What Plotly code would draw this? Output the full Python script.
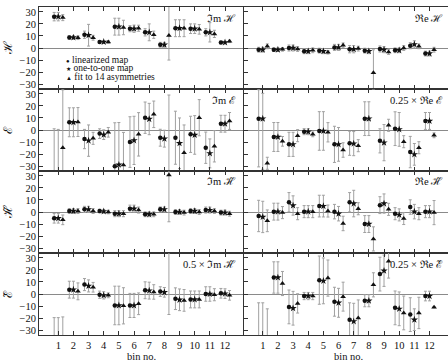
import plotly.graph_objects as go
from plotly.subplots import make_subplots

bins = list(range(1, 13))
tick_vals_y = [-30, -20, -10, 0, 10, 20, 30]
x_ticks = [str(b) for b in bins]
series_names = ["linearized map", "one-to-one map", "fit to 14 asymmetries"]

# ---- Panel 1 left: Im H ----
imH_lin = [26, 8.7, 11, 5, 17.7, 16, 13, 2.7, 16.4, 16, 13, 4.6]
imH_lin_err = [3.5, 1.5, 3, 1, 7, 2.5, 3, 2, 7, 4, 3, 1]
imH_o2o = [26, 8.7, 10.6, 5, 17.7, 16, 13, 2.7, 16.4, 16, 13, 4.6]
imH_o2o_err = [3.5, 1.5, 9, 1, 7, 3, 7, 2, 7, 4, 8, 1]
imH_fit = [25.2, 8.5, 8.5, 5, 17, 16.4, 11, 10.4, 16.4, 15.5, 11.7, 5.5]
imH_fit_err = [2.5, 1.5, 2, 1, 6, 2.5, 3, 30, 7, 4, 3, 1]
imH_fit_errm = [2.5, 1.5, 2, 1, 6, 2.5, 3, 20.4, 7, 4, 3, 1]

# ---- Panel 1 right: Re H ----
reH_lin = [-1.4, -1.4, 0, -2.7, -2.2, 0.5, -1, -2.2, -0.8, -1.9, 1.9, -4.6]
reH_lin_err = [2, 1.5, 2.5, 2, 2, 2.5, 3, 2, 2.5, 2, 2.5, 2]
reH_o2o = [-1.4, -1.4, 0, -2.7, -2.7, 0.5, -1, -2.7, -1.4, -1.9, 3, -4.6]
reH_o2o_err = [2, 1.5, 2.5, 2, 2, 2.5, 3, 2, 2.5, 2, 3, 2]
reH_fit = [1.4, -1.1, -0.8, -1.9, -3.5, 2.2, -0.5, -20.5, -3.3, 0, 1.4, -1.4]
reH_fit_err = [2, 1.5, 2, 2, 1.5, 2, 2, 19, 2, 2, 2, 2]

# ---- Panel 2 left: Im E ----
imE_lin = [-45, 6.4, -7.5, -3, -30, -10, 10.2, -6.4, -6.4, -3.6, -14.7, 5.2]
imE_lin_err = [46, 12, 8, 4, 36, 21, 13, 7, 22, 15, 13, 7]
imE_lin_errm = [10, 12, 8, 4, 36, 21, 13, 7, 22, 15, 13, 7]
imE_o2o = [-45, 6.4, -8.8, -3.9, -28.8, -8.6, 9.1, -7.2, -11, -4.1, -19.4, 5.2]
imE_o2o_err = [45.5, 12, 13, 4, 35, 20, 13, 7, 21, 16, 12, 7]
imE_o2o_errm = [10, 12, 13, 4, 35, 20, 13, 7, 21, 16, 12, 7]
imE_fit = [-14.7, 6.6, -6.9, -1.9, -29, -3.6, 13, -40, -18.8, 10.2, -13.5, 7.5]
imE_fit_err = [48, 12, 5, 4, 27, 18, 11, 69, 23, 15, 13, 7]
imE_fit_errm = [48, 12, 5, 4, 27, 18, 11, 10, 23, 15, 13, 7]

# ---- Panel 2 right: 0.25 x Re E ----
reE_lin = [9.4, -5.8, -11.9, -1.4, -0.8, -11.9, -11, 9.4, -9, 1.1, -18.3, 7.5]
reE_lin_err = [24, 12, 10, 2.5, 16, 15, 10, 14, 10, 14, 13, 7]
reE_lin_errm = [40, 12, 10, 2.5, 16, 15, 10, 14, 10, 14, 13, 7]
reE_o2o = [9.4, -5.8, -11.9, -1.4, -0.8, -11.9, -11.3, 9.4, -10.5, 0.5, -20.2, 7.5]
reE_o2o_err = [21, 12, 10, 2.5, 16, 14, 10, 14, 15, 14, 9, 7]
reE_o2o_errm = [42, 12, 10, 2.5, 16, 14, 10, 14, 15, 14, 9, 7]
reE_fit = [-27.6, -9.4, -4.7, -3.6, -1.9, -16.6, -13, 40, 3.9, -9.7, -14.7, -4.4]
reE_fit_err = [5, 4, 5, 2, 8, 6, 5, 6, 5, 5, 5, 2]

# ---- Panel 3 left: Im H~ ----
imHt_lin = [-5.2, 0.8, 2.2, 0.8, -1.4, 2.7, -1.9, 2.2, 0, 0.8, 1.6, -0.5]
imHt_lin_err = [4, 2, 2.5, 1.5, 2.5, 3, 2, 2, 2, 2, 2.5, 2]
imHt_o2o = [-5.2, 0.8, 2.2, 0.5, -1.4, 2.7, -1.9, 2.2, 0, 0.8, 1.6, -0.5]
imHt_o2o_err = [4, 2, 2.5, 1.5, 2.5, 3, 2, 2, 2, 2, 2.5, 2]
imHt_fit = [-6.5, 0.8, 0.8, 0, -1.4, 1.6, -1.9, 30.7, -0.5, 0, 0.8, -1.4]
imHt_fit_err = [4, 2, 2, 1.5, 2.5, 2.5, 2, 38.8, 2, 2, 2, 2]

# ---- Panel 3 right: Re H~ ----
reHt_lin = [-3.3, 0.3, 8.1, 0.3, 4.9, 0.3, 8.1, -10, 5.7, -1.4, 4.1, 0.3]
reHt_lin_err = [13, 7, 8, 5, 9, 6, 8, 7, 7, 5, 6, 5]
reHt_o2o = [-4.1, 0.3, 5.4, 0.3, 4.9, -1.4, 7, -10, 7, -2.4, 0.3, 0.3]
reHt_o2o_err = [13, 7, 8, 5, 9, 6, 11, 7, 8, 5, 6, 5]
reHt_fit = [-7.3, -0.5, -1.4, 0.3, 0.8, -9.5, 2.7, -22.3, 2.2, -5.4, -1.4, -0.5]
reHt_fit_err = [9, 5, 5, 5, 5, 6, 5, 10, 5, 5, 5, 10]

# ---- Panel 4 left: 0.5 x Im (bottom) ----
imEt_lin = [-45, 3.6, 7.8, -0.6, -9.5, -9.5, 3.1, 2, -3.9, -4.5, 0, 0.6]
imEt_lin_err = [25.4, 7, 5, 3, 16, 10, 7, 4, 9, 7, 6, 4]
imEt_lin_errm = [10, 7, 5, 3, 16, 10, 7, 4, 9, 7, 6, 4]
imEt_o2o = [-45, 3.6, 6.7, -1.1, -9.5, -9.5, 2.8, 1.4, -4.8, -4.5, 0, 0.3]
imEt_o2o_err = [25.4, 7, 5, 3, 16, 10, 7, 4, 9, 7, 6, 4]
imEt_o2o_errm = [10, 7, 5, 3, 16, 10, 7, 4, 9, 7, 6, 4]
imEt_fit = [-45, 2.2, 5.6, -1.1, -9.8, -8.1, 1.7, 45, -5.3, -4.5, -0.6, -1.1]
imEt_fit_err = [26, 7, 4, 2, 15, 9, 6, 10, 9, 7, 5, 4]
imEt_fit_errm = [10, 7, 4, 2, 15, 9, 6, 62, 9, 7, 5, 4]

# ---- Panel 4 right: 0.25 x Re E~ ----
reEt_lin = [-45, 13.7, -10.7, -1.7, 11.5, -6.4, -21.3, -5.6, 16.5, -11.5, -17.1, -1.7]
reEt_lin_err = [37.7, 13, 14, 3, 20, 12, 14, 5, 14, 14, 14, 4]
reEt_o2o = [-45, 13.7, -11.8, -1.7, 10.9, -7.3, -22.7, -5.6, 19.3, -12.3, -21.3, -1.7]
reEt_o2o_err = [37.7, 13, 14, 3, 19, 12, 15, 5, 13, 14, 9, 4]
reEt_fit = [-45, 8.7, -7.8, -1.7, 13.2, -2.2, -19.9, 7.6, 27.2, -15.7, -15.7, -10.9]
reEt_fit_err = [32.7, 10, 8, 3, 15, 12, 15, 10, 14, 14, 13, 0.5]

panel_titles = [
    "ℑm ℋ", "ℜe ℋ",
    "ℑm ℰ", "0.25 × ℜe ℰ",
    "ℑm ℋ̃", "ℜe ℋ̃",
    "0.5 × ℑm ℋ̃", "0.25 × ℜe ℰ̃",
]
row_labels = ["ℋ", "ℰ", "ℋ̃", "ℰ̃"]

panels = [
    (1, 1, [(imH_lin, imH_lin_err, None), (imH_o2o, imH_o2o_err, None), (imH_fit, imH_fit_err, imH_fit_errm)]),
    (1, 2, [(reH_lin, reH_lin_err, None), (reH_o2o, reH_o2o_err, None), (reH_fit, reH_fit_err, None)]),
    (2, 1, [(imE_lin, imE_lin_err, imE_lin_errm), (imE_o2o, imE_o2o_err, imE_o2o_errm), (imE_fit, imE_fit_err, imE_fit_errm)]),
    (2, 2, [(reE_lin, reE_lin_err, reE_lin_errm), (reE_o2o, reE_o2o_err, reE_o2o_errm), (reE_fit, reE_fit_err, None)]),
    (3, 1, [(imHt_lin, imHt_lin_err, None), (imHt_o2o, imHt_o2o_err, None), (imHt_fit, imHt_fit_err, None)]),
    (3, 2, [(reHt_lin, reHt_lin_err, None), (reHt_o2o, reHt_o2o_err, None), (reHt_fit, reHt_fit_err, None)]),
    (4, 1, [(imEt_lin, imEt_lin_err, imEt_lin_errm), (imEt_o2o, imEt_o2o_err, imEt_o2o_errm), (imEt_fit, imEt_fit_err, imEt_fit_errm)]),
    (4, 2, [(reEt_lin, reEt_lin_err, None), (reEt_o2o, reEt_o2o_err, None), (reEt_fit, reEt_fit_err, None)]),
]

offsets = [-0.27, 0.0, 0.3]
symbols = ["circle", "star", "triangle-up"]
sizes = [4.5, 5.5, 5]
FONT = "Liberation Serif, Times New Roman, serif"

W, H = 448, 363
L, R, T, B = 39, 0, 7, 28

fig = make_subplots(rows=4, cols=2, horizontal_spacing=0, vertical_spacing=0)

for row, col, series in panels:
    for k, (vals, ep, em) in enumerate(series):
        fig.add_trace(go.Scatter(
            x=[b + offsets[k] for b in bins], y=vals, mode="markers",
            name=series_names[k], showlegend=False,
            marker=dict(symbol=symbols[k], size=sizes[k], color="#111111"),
            error_y=dict(type="data", array=ep, arrayminus=(em if em is not None else ep),
                         symmetric=False, color="#a0a0a0", thickness=1, width=1.5),
        ), row=row, col=col)

for row in range(1, 5):
    for col in range(1, 3):
        fig.update_xaxes(range=[-0.27, 13.22], tickvals=bins, ticktext=x_ticks,
                         ticks="inside", ticklen=4, tickcolor="#333",
                         showline=True, linecolor="#333", linewidth=1, mirror="ticks",
                         showgrid=False, zeroline=False,
                         showticklabels=(row == 4),
                         tickfont=dict(family=FONT, size=10.5, color="#111"),
                         row=row, col=col)
        fig.update_yaxes(range=[-34, 34], tickvals=tick_vals_y,
                         ticks="inside", ticklen=4, tickcolor="#333",
                         showline=True, linecolor="#333", linewidth=1, mirror=False,
                         showgrid=False, zeroline=True, zerolinecolor="#8a8a8a", zerolinewidth=1,
                         showticklabels=(col == 1),
                         tickfont=dict(family=FONT, size=10.5, color="#111"),
                         row=row, col=col)

pw = W - L - R
ph = H - T - B

def px(xp):
    return (xp - L) / pw

def py(yp):
    return (H - B - yp) / ph

ann = []
for i, t in enumerate(panel_titles):
    r, c = divmod(i, 2)
    ann.append(dict(text=t, x=px(238 if c == 0 else 445), y=py(T + 82 * r + 11),
                    xref="paper", yref="paper", xanchor="right", yanchor="middle",
                    showarrow=False, font=dict(family=FONT, size=10.5, color="#111")))
for r, lab in enumerate(row_labels):
    ann.append(dict(text=lab, x=px(8), y=py(T + 82 * r + 41), xref="paper", yref="paper",
                    xanchor="center", yanchor="middle", textangle=-90, showarrow=False,
                    font=dict(family=FONT, size=12, color="#111")))
leg_sym = ["●", "★", "▲"]
for k, name in enumerate(series_names):
    ann.append(dict(text="<span style='font-size:6px'>" + leg_sym[k] + "</span> " + name,
                    x=px(64), y=py(60 + 8.4 * k), xref="paper", yref="paper",
                    xanchor="left", yanchor="middle", showarrow=False,
                    font=dict(family=FONT, size=9.5, color="#111")))
for xc in (141, 348):
    ann.append(dict(text="bin no.", x=px(xc), y=py(356), xref="paper", yref="paper",
                    xanchor="center", yanchor="middle", showarrow=False,
                    font=dict(family=FONT, size=10.5, color="#111")))

fig.update_layout(width=W, height=H, margin=dict(l=L, r=R, t=T, b=B),
                  paper_bgcolor="white", plot_bgcolor="white",
                  showlegend=False, annotations=ann, hovermode=False,
                  font=dict(family=FONT, size=10.5, color="#111"))

fig.write_html("out.html", config={"displayModeBar": False, "staticPlot": True},
               post_script="document.body.style.margin='0px';document.body.style.overflow='hidden';")
